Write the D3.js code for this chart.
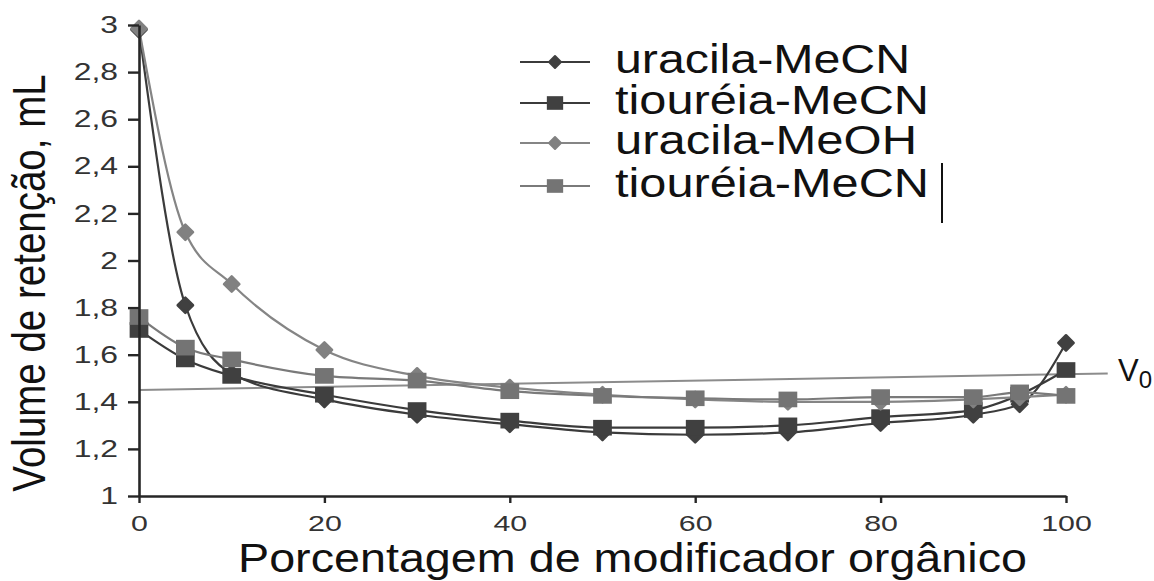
<!DOCTYPE html>
<html>
<head>
<meta charset="utf-8">
<script src="https://cdn.jsdelivr.net/npm/d3@7/dist/d3.min.js"></script>
<style>
  html, body { margin: 0; padding: 0; background: #fff; }
  svg { display: block; font-family: "Liberation Sans", Arial, sans-serif; }
</style>
</head>
<body>
<svg id="chart" width="1154" height="581"></svg>
<script>
// Percentage of organic modifier in the mobile phase
const modifier = [0, 5, 10, 20, 30, 40, 50, 60, 70, 80, 90, 95, 100];

// Retention volumes (mL)
const uracilaMeCN   = [2.98, 1.81, 1.52, 1.41, 1.345, 1.305, 1.27, 1.26, 1.27, 1.31, 1.345, 1.39, 1.65];
const tioureiaMeCN  = [1.705, 1.58, 1.51, 1.43, 1.365, 1.32, 1.29, 1.29, 1.30, 1.335, 1.365, 1.43, 1.535];
const uracilaMeOH   = [2.985, 2.12, 1.90, 1.62, 1.51, 1.46, 1.43, 1.41, 1.40, 1.40, 1.41, 1.42, 1.43];
const tioureiaMeCN2 = [1.76, 1.63, 1.58, 1.51, 1.49, 1.445, 1.425, 1.415, 1.41, 1.42, 1.42, 1.44, 1.425];

const seriesNames = ["uracila-MeCN", "tiouréia-MeCN", "uracila-MeOH", "tiouréia-MeCN"];

// Dead volume reference line V0 (start / end points)
const v0X = [0, 104.5];
const v0Y = [1.45, 1.52];

const xTicks = [0, 20, 40, 60, 80, 100];
const yTicks = [1, 1.2, 1.4, 1.6, 1.8, 2, 2.2, 2.4, 2.6, 2.8, 3];
const yTickLabels = ["1", "1,2", "1,4", "1,6", "1,8", "2", "2,2", "2,4", "2,6", "2,8", "3"];

const xTitle = "Porcentagem de modificador orgânico";
const yTitle = "Volume de retenção, mL";

const svg = d3.select("#chart");
svg.append("rect").attr("width", 1154).attr("height", 581).attr("fill", "#fff");

const x = d3.scaleLinear().domain([0, 100]).range([139, 1066]);
const y = d3.scaleLinear().domain([1, 3]).range([496, 25]);

const DARK = "#3b3b3b", DARK_M = "#404040";
const GRAY = "#7a7a7a", GRAY_M = "#747474";
const LIGHT = "#858585", LIGHT_M = "#818181";

const series = [
  { name: seriesNames[0], values: uracilaMeCN,   line: DARK,  fill: DARK_M,  shape: "diamond" },
  { name: seriesNames[1], values: tioureiaMeCN,  line: DARK,  fill: DARK_M,  shape: "square" },
  { name: seriesNames[2], values: uracilaMeOH,   line: LIGHT, fill: LIGHT_M, shape: "diamond" },
  { name: seriesNames[3], values: tioureiaMeCN2, line: GRAY,  fill: GRAY_M,  shape: "square" }
];

const diamond = d3.symbol().type(d3.symbolDiamond2).size(150);
const square = d3.symbol().type(d3.symbolSquare).size(290);
const legendDiamond = d3.symbol().type(d3.symbolDiamond2).size(90);
const legendSquare = d3.symbol().type(d3.symbolSquare).size(220);

// V0 line
svg.append("line")
  .attr("x1", x(v0X[0])).attr("y1", y(v0Y[0]))
  .attr("x2", x(v0X[1])).attr("y2", y(v0Y[1]))
  .attr("stroke", "#8c8c8c").attr("stroke-width", 2);

const v0Label = svg.append("text")
  .attr("x", 1118).attr("y", 381)
  .attr("font-size", 31).attr("fill", "#111");
v0Label.append("tspan").text("V");
v0Label.append("tspan").attr("font-size", 24).attr("dy", 7).text("0");

// Series lines and markers
const lineGen = d3.line()
  .x((d, i) => x(modifier[i]))
  .y(d => y(d))
  .curve(d3.curveMonotoneX);

series.forEach(s => {
  svg.append("path")
    .attr("d", lineGen(s.values))
    .attr("fill", "none")
    .attr("stroke", s.line)
    .attr("stroke-width", 2.2);
});

series.forEach(s => {
  svg.append("g").selectAll("path")
    .data(s.values)
    .join("path")
    .attr("transform", (d, i) => s.shape === "square"
      ? `translate(${x(modifier[i])},${y(d)}) scale(1.1,0.92)`
      : `translate(${x(modifier[i])},${y(d)})`)
    .attr("d", s.shape === "square" ? square : diamond)
    .attr("fill", s.fill)
    .attr("stroke", s.shape === "diamond" ? s.fill : "none")
    .attr("stroke-width", s.shape === "diamond" ? 2.5 : 0)
    .attr("stroke-linejoin", "round");
});

// Axes
const yAxis = d3.axisLeft(y)
  .tickValues(yTicks)
  .tickFormat((d, i) => yTickLabels[i])
  .tickSize(11)
  .tickSizeOuter(0);

const gy = svg.append("g").attr("transform", `translate(${x(0)},0)`).call(yAxis);

const xAxis = d3.axisBottom(x)
  .tickValues(xTicks)
  .tickSize(7)
  .tickSizeOuter(0);

const gx = svg.append("g").attr("transform", `translate(0,${y(1)})`).call(xAxis);

[gx, gy].forEach(g => {
  g.select(".domain").attr("stroke", "#262626").attr("stroke-width", 2.6);
  g.selectAll(".tick line").attr("stroke", "#262626").attr("stroke-width", 2.4);
  g.selectAll(".tick text")
    .attr("font-family", "Liberation Sans, Arial, sans-serif")
    .attr("fill", "#333");
});

gy.selectAll(".tick text")
  .attr("x", 0)
  .attr("font-size", 24)
  .attr("transform", "translate(-21,0) scale(1.33,1)");

gx.selectAll(".tick text")
  .attr("y", 0)
  .attr("font-size", 22.5)
  .attr("transform", "translate(0,19) scale(1.35,1)");

// Axis titles
svg.append("text")
  .attr("transform", "translate(45,283) rotate(-90) scale(1,1.2)")
  .attr("text-anchor", "middle")
  .attr("font-size", 38.5)
  .attr("fill", "#111")
  .text(yTitle);

svg.append("text")
  .attr("x", 238).attr("y", 572)
  .attr("font-size", 41)
  .attr("fill", "#111")
  .attr("textLength", 789)
  .attr("lengthAdjust", "spacingAndGlyphs")
  .text(xTitle);

// Legend
const legendBase = [73, 114, 154, 197];
const legendWidth = [295, 314, 302, 314];

series.forEach((s, i) => {
  const cy = legendBase[i] - 11;
  svg.append("line")
    .attr("x1", 520).attr("x2", 590)
    .attr("y1", cy).attr("y2", cy)
    .attr("stroke", s.line).attr("stroke-width", 2.2);
  svg.append("path")
    .attr("transform", s.shape === "square"
      ? `translate(555,${cy}) scale(1.1,0.92)`
      : `translate(555,${cy})`)
    .attr("d", s.shape === "square" ? legendSquare : legendDiamond)
    .attr("fill", s.fill)
    .attr("stroke", s.shape === "diamond" ? s.fill : "none")
    .attr("stroke-width", 2)
    .attr("stroke-linejoin", "round");
  svg.append("text")
    .attr("x", 615).attr("y", legendBase[i])
    .attr("font-size", 40)
    .attr("fill", "#111")
    .attr("textLength", legendWidth[i])
    .attr("lengthAdjust", "spacingAndGlyphs")
    .text(s.name);
});

svg.append("line")
  .attr("x1", 942).attr("x2", 942)
  .attr("y1", 163).attr("y2", 223)
  .attr("stroke", "#111").attr("stroke-width", 2);
</script>
</body>
</html>
